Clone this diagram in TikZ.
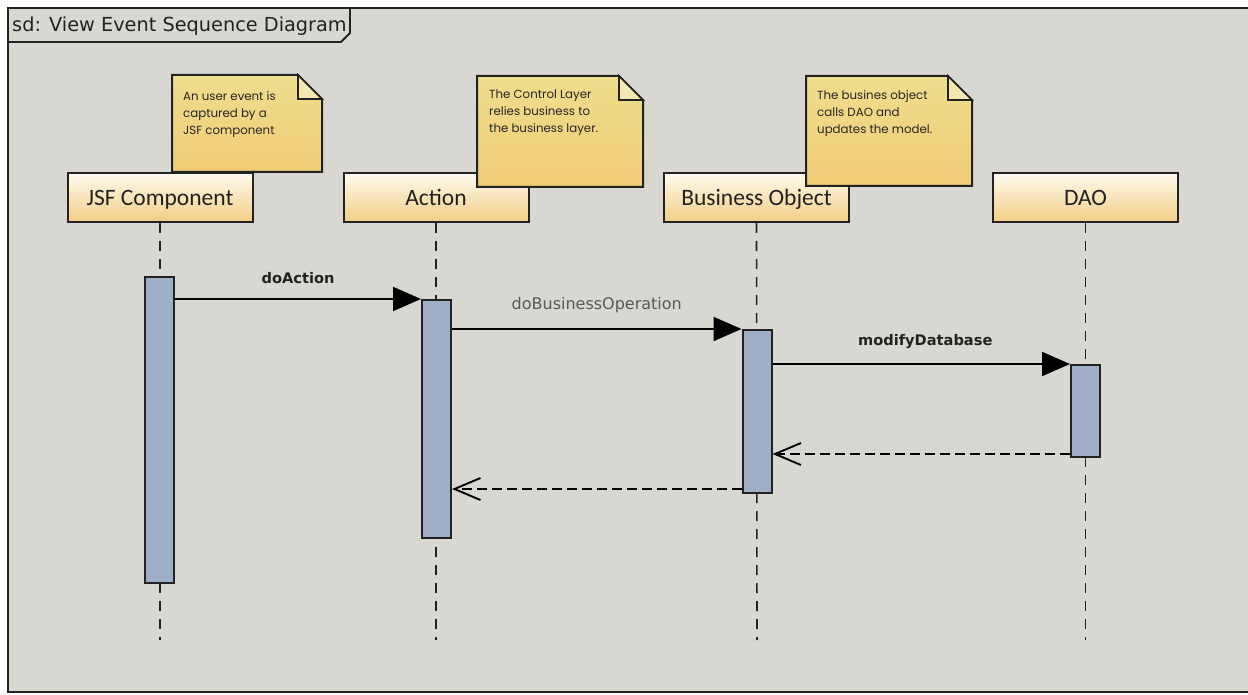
\documentclass[tikz,border=0pt]{standalone}
\usepackage{fontspec}
\usetikzlibrary{arrows.meta,calc}
\newfontfamily\hdrfont{Carlito}
\newfontfamily\msgfont{DejaVu Sans}
\newfontfamily\notefont{Poppins}
\definecolor{framebg}{HTML}{D9D7D2}
\definecolor{hdrtop}{HTML}{FFFBF0}
\definecolor{hdrbot}{HTML}{F2CD83}
\definecolor{notetop}{HTML}{EEDE8D}
\definecolor{notebot}{HTML}{F1CC76}
\definecolor{barfill}{HTML}{9DAEC6}
\definecolor{inkdark}{HTML}{222222}
\tikzset{
  header/.style={draw=inkdark, line width=2pt, top color=hdrtop, bottom color=hdrbot,
    minimum width=185pt, minimum height=49pt, inner sep=0pt, text height=16pt, text depth=0pt,
    font=\hdrfont\fontsize{23.5}{26}\selectfont, text=inkdark},
  actbar/.style={draw=inkdark, line width=2pt, fill=barfill, minimum width=29pt, inner sep=0pt},
  lifeline/.style={draw=inkdark, line width=1.6pt, dash pattern=on 10pt off 8pt},
  notebox/.style={draw=inkdark, line width=2pt, top color=notetop, bottom color=notebot},
  notetext/.style={anchor=north west, align=left, inner sep=0pt,
    font=\notefont\fontsize{11.8}{17}\selectfont, text=black!85},
  callmsg/.style={draw=black, line width=2pt, -{Triangle[length=28pt,width=24pt]}},
  retmsg/.style={draw=black, line width=1.9pt, dash pattern=on 10pt off 5pt,
    -{Straight Barb[length=26pt,width=22pt,line width=1.9pt]}},
  msglabel/.style={font=\msgfont\fontsize{16}{18}\selectfont},
  boldlabel/.style={font=\msgfont\bfseries\fontsize{14.6}{17}\selectfont, text=inkdark},
}
\begin{document}
\begin{tikzpicture}[x=1pt,y=-1pt]
\useasboundingbox (0,0) rectangle (1248,695);
% frame
\fill[framebg] (8,8) rectangle (1248,692);
\draw[inkdark, line width=1.8pt] (1248,8) -- (8,8) -- (8,692) -- (1248,692);
\draw[inkdark, line width=1.8pt] (8,42) -- (341,42) -- (350,33) -- (350,8);
\node[anchor=west, inner sep=0pt, font=\msgfont\fontsize{19.3}{22}\selectfont, text=inkdark]
  (title) at (12,26) {sd: View Event Sequence Diagram};

% lifeline headers
\node[header] (jsf) at (160,197.5) {JSF Component};
\node[header] (act) at (436,197.5) {Action};
\node[header] (bo)  at (756.5,197.5) {Business Object};
\node[header] (dao) at (1085.5,197.5) {DAO};

% lifeline ends
\coordinate (jsfend) at (160,640);
\coordinate (actend) at (436,640);
\coordinate (boend)  at (757,640);
\coordinate (daoend) at (1085.5,640);
\draw[lifeline] (jsf.south) -- (jsfend);
\draw[lifeline] (act.south) -- (actend);
\draw[lifeline] (bo.south) -- (boend);
\draw[lifeline] (dao.south) -- (daoend);

% activation bars
\node[actbar, minimum height=306pt] (jsfbar) at (159.5,430) {};
\node[actbar, minimum height=238pt] (actbar) at (436.5,419) {};
\node[actbar, minimum height=163pt] (bobar)  at (757,411.5) {};
\node[actbar, minimum height=92pt]  (daobar) at (1085.5,411) {};

% notes
\path[notebox] (172,75) -- (298,75) -- (322,99) -- (322,172) -- (172,172) -- cycle;
\draw[inkdark, line width=1.6pt, fill=notetop!70!white] (298,75) -- (298,99) -- (322,99) -- cycle;
\node[notetext] (n1) at (183,91) {An user event is\\captured by a\\JSF component};

\path[notebox] (477,76) -- (619,76) -- (643,100) -- (643,187) -- (477,187) -- cycle;
\draw[inkdark, line width=1.6pt, fill=notetop!70!white] (619,76) -- (619,100) -- (643,100) -- cycle;
\node[notetext] (n2) at (489,90) {The Control Layer\\relies business to\\the business layer.};

\path[notebox] (806,76) -- (948,76) -- (972,100) -- (972,186) -- (806,186) -- cycle;
\draw[inkdark, line width=1.6pt, fill=notetop!70!white] (948,76) -- (948,100) -- (972,100) -- cycle;
\node[notetext] (n3) at (817,90) {The busines object\\calls DAO and\\updates the model.};

% messages
\draw[callmsg] (jsfbar.east |- actbar.north west) -- node[midway, above=11pt, boldlabel] {doAction} (actbar.north west);
\draw[callmsg] (actbar.east |- bobar.north west) -- node[midway, above=12pt, msglabel, text=black!65] {doBusinessOperation} (bobar.north west);
\draw[callmsg] (bobar.east |- daobar.north west) -- node[midway, above=11pt, boldlabel, xshift=4pt] {modifyDatabase} (daobar.north west);

% returns
\draw[retmsg] ([yshift=4pt]daobar.south west) -- ([yshift=4pt]bobar.east |- daobar.south west);
\draw[retmsg] ([yshift=5pt]bobar.south west) -- ([yshift=5pt]actbar.east |- bobar.south west);
\end{tikzpicture}
\end{document}
